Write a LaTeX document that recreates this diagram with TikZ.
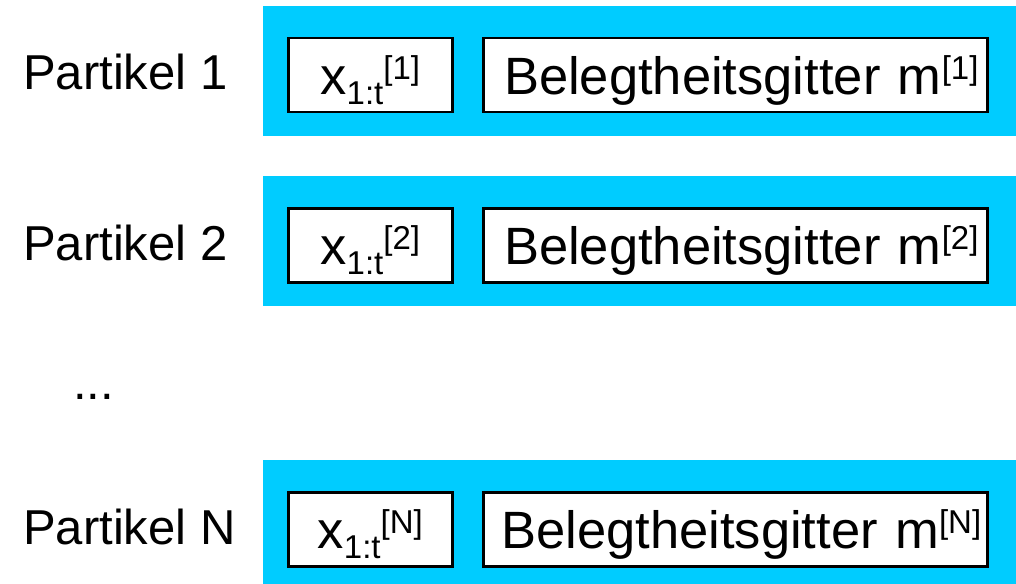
\documentclass[tikz,border=0pt]{standalone}
\usepackage{fontspec}
\setmainfont{Liberation Sans}
\definecolor{barcyan}{RGB}{0,204,255}
% x_{1:t}^{[i]} and m^{[i]} set with raised/lowered small text
\newcommand{\smalltxt}[1]{{\fontsize{33}{33}\selectfont #1}}
\newcommand{\pathlabel}[1]{x\raisebox{-10pt}{\smalltxt{1:t}}\raisebox{15pt}{\smalltxt{[#1]}}}
\newcommand{\maplabel}[1]{\hspace*{12pt}Belegtheitsgitter m\raisebox{15pt}{\smalltxt{[#1]}}}
\tikzset{
  bar/.style={fill=barcyan, draw=none},
  cell/.style={draw=black, fill=white, line width=2.5pt, inner xsep=0pt, inner ysep=0pt,
    text height=56pt, text depth=18pt, anchor=north west, align=center,
    font=\fontsize{52.5}{60}\selectfont},
  rowlabel/.style={anchor=base west, inner sep=0pt, font=\fontsize{49}{56}\selectfont},
}
\begin{document}
\begin{tikzpicture}[x=1pt, y=-1pt]
  \useasboundingbox (0,0) rectangle (1016,583);
  \foreach \name/\lbl/\idx/\top in {r1/1/1/6, r2/2/2/176, rN/N/N/460} {
    \fill[bar] (263,\top) rectangle (1016,\top+130);
    \node[rowlabel] (\name lab) at (23,\top+84) {Partikel \lbl};
    \node[cell, text width=164pt] (\name x) at (287,\top+31) {\pathlabel{\idx}};
    \node[cell, text width=504pt] (\name m) at (482,\top+31) {\maplabel{\idx}};
  }
  \node[rowlabel] (dots) at (73,399) {...};
\end{tikzpicture}
\end{document}
